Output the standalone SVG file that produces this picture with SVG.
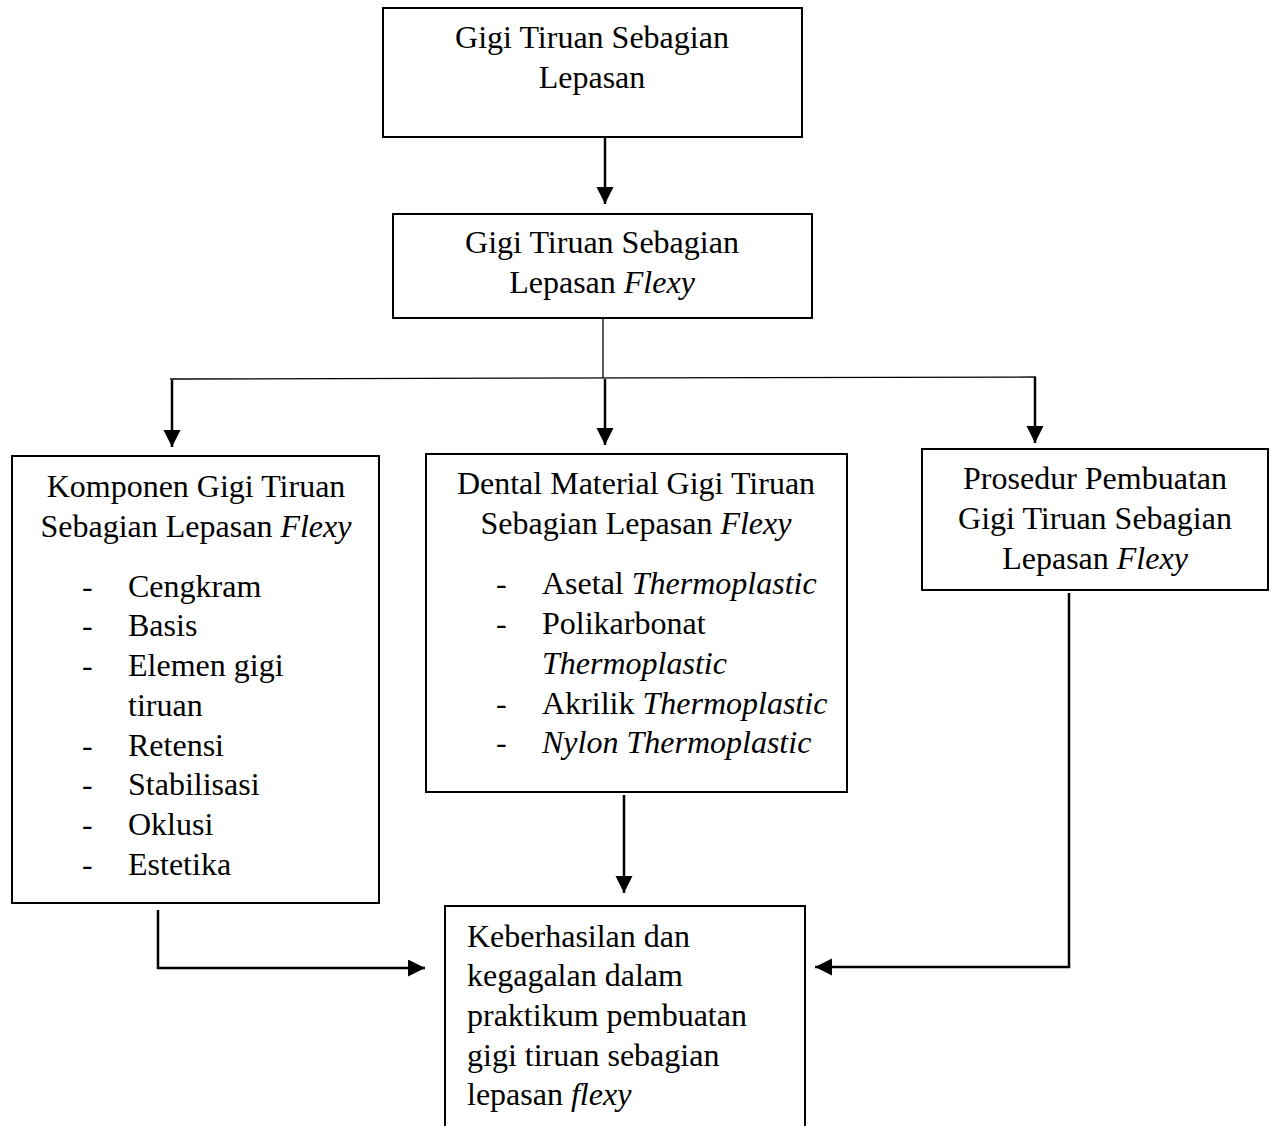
<svg xmlns="http://www.w3.org/2000/svg" width="1272" height="1126" viewBox="0 0 1272 1126">
<style>
.box{fill:#fff;stroke:#000;stroke-width:2}
.t{font-family:"Liberation Serif","Times New Roman",serif;font-size:32px;fill:#000}
.c{text-anchor:middle}
.i{font-style:italic}
.ln{fill:none;stroke:#000;stroke-width:2.5}
.thin{fill:none;stroke:#000;stroke-width:1.3}
</style>
<defs>
<marker id="ah" markerUnits="userSpaceOnUse" markerWidth="19" markerHeight="19" refX="17" refY="8.5" orient="auto">
<path d="M0,0 L17,8.5 L0,17 z" fill="#000"/>
</marker>
</defs>
<rect width="1272" height="1126" fill="#fff"/>
<g id="connectors">
<line class="ln" x1="605" y1="137" x2="605" y2="204" marker-end="url(#ah)"/>
<line class="thin" x1="603" y1="318" x2="603" y2="378"/>
<line class="thin" x1="170" y1="379" x2="1036" y2="377"/>
<line class="ln" x1="172" y1="380" x2="172" y2="447" marker-end="url(#ah)"/>
<line class="ln" x1="605" y1="379" x2="605" y2="445" marker-end="url(#ah)"/>
<line class="ln" x1="1035" y1="377" x2="1035" y2="443" marker-end="url(#ah)"/>
<line class="ln" x1="624" y1="795" x2="624" y2="893" marker-end="url(#ah)"/>
<polyline class="ln" points="158,910 158,968 425,968" marker-end="url(#ah)"/>
<polyline class="ln" points="1069,593 1069,967 815,967" marker-end="url(#ah)"/>
</g>
<g id="n1">
<rect class="box" x="383" y="8" width="419" height="129"/>
<text class="t c" x="592" y="48">Gigi Tiruan Sebagian</text>
<text class="t c" x="592" y="88">Lepasan</text>
</g>
<g id="n2">
<rect class="box" x="393" y="214" width="419" height="104"/>
<text class="t c" x="602" y="253">Gigi Tiruan Sebagian</text>
<text class="t c" x="602" y="293">Lepasan <tspan class="i">Flexy</tspan></text>
</g>
<g id="n3">
<rect class="box" x="12" y="456" width="367" height="447"/>
<text class="t c" x="196" y="497">Komponen Gigi Tiruan</text>
<text class="t c" x="196" y="537">Sebagian Lepasan <tspan class="i">Flexy</tspan></text>
<text class="t" x="82" y="597">-</text><text class="t" x="128" y="597">Cengkram</text>
<text class="t" x="82" y="636">-</text><text class="t" x="128" y="636">Basis</text>
<text class="t" x="82" y="676">-</text><text class="t" x="128" y="676">Elemen gigi</text>
<text class="t" x="128" y="716">tiruan</text>
<text class="t" x="82" y="756">-</text><text class="t" x="128" y="756">Retensi</text>
<text class="t" x="82" y="795">-</text><text class="t" x="128" y="795">Stabilisasi</text>
<text class="t" x="82" y="835">-</text><text class="t" x="128" y="835">Oklusi</text>
<text class="t" x="82" y="875">-</text><text class="t" x="128" y="875">Estetika</text>
</g>
<g id="n4">
<rect class="box" x="426" y="454" width="421" height="338"/>
<text class="t c" x="636" y="494">Dental Material Gigi Tiruan</text>
<text class="t c" x="636" y="534">Sebagian Lepasan <tspan class="i">Flexy</tspan></text>
<text class="t" x="496" y="594">-</text><text class="t" x="542" y="594">Asetal <tspan class="i">Thermoplastic</tspan></text>
<text class="t" x="496" y="634">-</text><text class="t" x="542" y="634">Polikarbonat</text>
<text class="t i" x="542" y="674">Thermoplastic</text>
<text class="t" x="496" y="714">-</text><text class="t" x="542" y="714">Akrilik <tspan class="i">Thermoplastic</tspan></text>
<text class="t" x="496" y="753">-</text><text class="t i" x="542" y="753">Nylon Thermoplastic</text>
</g>
<g id="n5">
<rect class="box" x="922" y="449" width="346" height="141"/>
<text class="t c" x="1095" y="489">Prosedur Pembuatan</text>
<text class="t c" x="1095" y="529">Gigi Tiruan Sebagian</text>
<text class="t c" x="1095" y="569">Lepasan <tspan class="i">Flexy</tspan></text>
</g>
<g id="n6">
<path class="box" d="M445,1128 L445,906 L805,906 L805,1128"/>
<text class="t" x="467" y="947">Keberhasilan dan</text>
<text class="t" x="467" y="986">kegagalan dalam</text>
<text class="t" x="467" y="1026">praktikum pembuatan</text>
<text class="t" x="467" y="1066">gigi tiruan sebagian</text>
<text class="t" x="467" y="1105">lepasan <tspan class="i">flexy</tspan></text>
</g>
</svg>
